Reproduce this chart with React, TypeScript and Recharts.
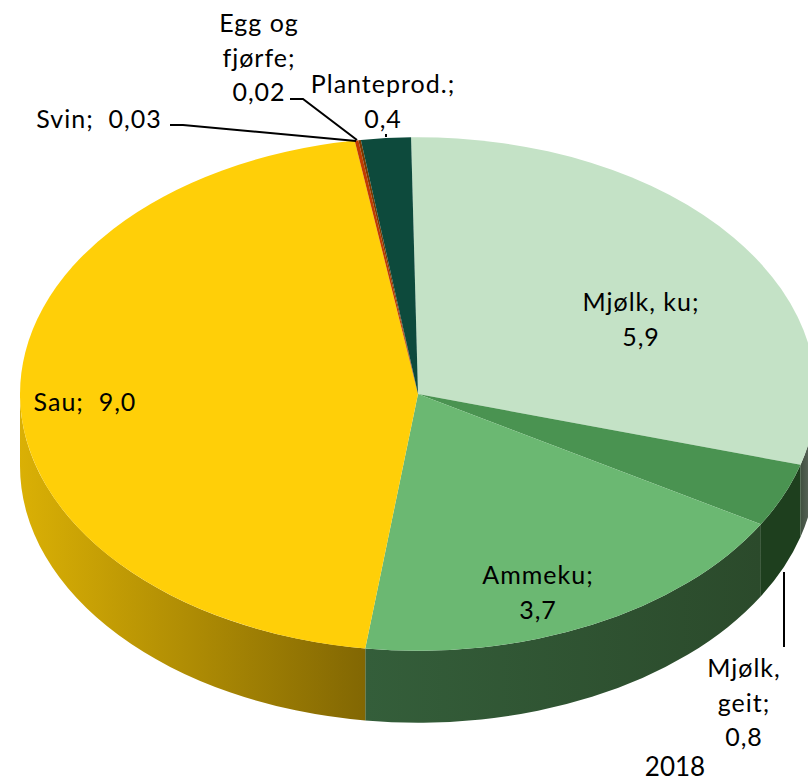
import React from 'react';
import { PieChart, Pie } from 'recharts';

const CATEGORIES = ['Mjølk, ku', 'Mjølk, geit', 'Ammeku', 'Sau', 'Svin', 'Egg og fjørfe', 'Planteprod.'];
const VALUES = [5.9, 0.8, 3.7, 9.0, 0.03, 0.02, 0.4];
const LABEL_LINES = [
  ['Mjølk, ku;', '5,9'],
  ['Mjølk,', 'geit;', '0,8'],
  ['Ammeku;', '3,7'],
  ['Sau;  9,0'],
  ['Svin;  0,03'],
  ['Egg og', 'fjørfe;', '0,02'],
  ['Planteprod.;', '0,4'],
];
const YEAR = '2018';

const TOP_COLORS = ['#C4E2C6', '#4A9351', '#6BB872', '#FFCF08', '#C23B00', '#7A3A00', '#0D4A3C'];
// left and right colour of the side wall
const WALL_COLORS = [
  ['#3F4F3F', '#6A736A'],
  ['#1E3F1E', '#1E3F1E'],
  ['#345E3A', '#2B4A2B'],
  ['#DAB005', '#826703'],
  ['#7A2600', '#7A2600'],
  ['#4A2400', '#4A2400'],
  ['#08302A', '#08302A'],
];

// where each label goes: x centre, y of first line, leader line
const LABEL_LAYOUT: { x: number; y: number; leader?: string }[] = [
  { x: 641, y: 311 },
  { x: 744, y: 677, leader: '784,572 784,647' },
  { x: 538, y: 584 },
  { x: 85, y: 411 },
  { x: 99, y: 128, leader: '170,125 183,125 356,141' },
  { x: 259, y: 32, leader: '290,99 303,99 357,140' },
  { x: 383, y: 93, leader: '386,134 386,137' },
];

const WIDTH = 808;
const HEIGHT = 781;
const SQUASH = 0.645; // tilt of the disc
const DEPTH = 72;
const FONT = 'Lato, "Open Sans", sans-serif';

const point = (cx: number, cy: number, r: number, deg: number) => {
  const a = (deg * Math.PI) / 180;
  return { x: cx + r * Math.cos(a), y: cy - r * SQUASH * Math.sin(a) };
};

const Slice3D = (props: any) => {
  const { cx, cy, outerRadius: r, startAngle, endAngle, index } = props;
  const ry = r * SQUASH;
  const from = point(cx, cy, r, startAngle);
  const to = point(cx, cy, r, endAngle);
  const large = Math.abs(startAngle - endAngle) > 180 ? 1 : 0;
  const top = `M${cx},${cy} L${from.x},${from.y} A${r},${ry} 0 ${large} 1 ${to.x},${to.y} Z`;

  // only the front half of the rim has a visible wall
  const a1 = Math.min(startAngle, 0);
  const a2 = Math.max(endAngle, -180);
  let wall = null;
  if (a1 > a2) {
    const p1 = point(cx, cy, r, a1);
    const p2 = point(cx, cy, r, a2);
    const d = `M${p1.x},${p1.y} A${r},${ry} 0 0 1 ${p2.x},${p2.y} L${p2.x},${p2.y + DEPTH} A${r},${ry} 0 0 0 ${p1.x},${p1.y + DEPTH} Z`;
    const id = `wall-${index}`;
    wall = (
      <g>
        <defs>
          <linearGradient id={id} gradientUnits="userSpaceOnUse" x1={Math.min(p1.x, p2.x)} x2={Math.max(p1.x, p2.x)} y1={0} y2={0}>
            <stop offset="0%" stopColor={WALL_COLORS[index][0]} />
            <stop offset="100%" stopColor={WALL_COLORS[index][1]} />
          </linearGradient>
        </defs>
        <path d={d} fill={`url(#${id})`} />
      </g>
    );
  }

  return (
    <g>
      {wall}
      <path d={top} fill={TOP_COLORS[index]} />
    </g>
  );
};

const renderLabel = ({ index }: any) => {
  const pos = LABEL_LAYOUT[index];
  return (
    <g key={index}>
      {pos.leader && <polyline points={pos.leader} fill="none" stroke="#000" strokeWidth={2} />}
      {LABEL_LINES[index].map((line, i) => (
        <text key={i} x={pos.x} y={pos.y + i * 34.5} textAnchor="middle" fontFamily={FONT} fontSize={25} letterSpacing={1} fill="#000" xmlSpace="preserve">
          {line}
        </text>
      ))}
    </g>
  );
};

const chartData = CATEGORIES.map((name, i) => ({ name, value: VALUES[i] }));

export default function App() {
  return (
    <div style={{ position: 'absolute', left: 0, top: 0, width: WIDTH, height: HEIGHT, overflow: 'hidden' }}>
      <PieChart width={WIDTH} height={HEIGHT} margin={{ top: 0, right: 0, bottom: 0, left: 0 }}>
        <Pie
          data={chartData}
          dataKey="value"
          nameKey="name"
          cx={418}
          cy={394}
          innerRadius={0}
          outerRadius={398}
          startAngle={91}
          endAngle={-269}
          stroke="none"
          shape={Slice3D}
          label={renderLabel}
          labelLine={false}
          isAnimationActive={false}
        />
        <text x={675} y={776} textAnchor="middle" fontFamily={FONT} fontSize={26} fill="#000">
          {YEAR}
        </text>
      </PieChart>
    </div>
  );
}
